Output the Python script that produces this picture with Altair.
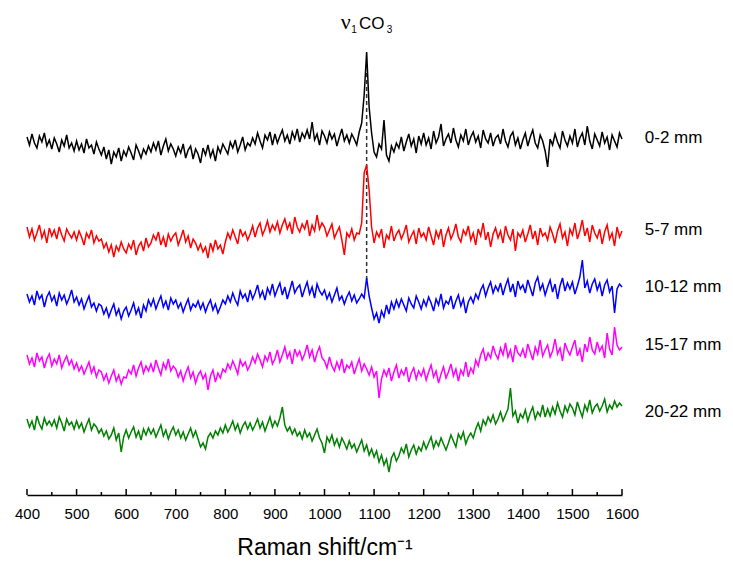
import altair as alt
import pandas as pd

# Raman shift grid: 400 .. 1600 cm-1, step 5
WN_START = 400
WN_STEP = 5

black = [
    358, 350, 361, 352, 347, 359, 353, 362, 349, 355,
    346, 357, 351, 343, 355, 349, 360, 347, 352, 344,
    354, 345, 351, 342, 356, 347, 350, 341, 353, 346,
    340, 348, 336, 345, 331, 343, 338, 347, 334, 344,
    339, 348, 342, 335, 350, 344, 337, 346, 341, 349,
    343, 352, 345, 354, 340, 349, 356, 344, 351, 346,
    339, 348, 342, 351, 337, 345, 349, 336, 346, 341,
    332, 347, 340, 350, 338, 345, 334, 348, 342, 351,
    346, 341, 353, 347, 355, 343, 350, 358, 345, 352,
    349, 357, 351, 362, 354, 347, 360, 355, 363, 350,
    361, 352, 359, 365, 354, 360, 351, 363, 356, 366,
    353, 362, 357, 365, 356, 373, 355, 361, 350, 364,
    359, 352, 363, 356, 361, 349, 358, 366, 354, 360,
    352, 361, 356, 350, 363, 372, 400, 443, 388, 362,
    343, 338, 351, 346, 375, 340, 334, 349, 343, 352,
    347, 358, 344, 353, 361, 349, 356, 342, 359, 351,
    362, 350, 357, 346, 364, 352, 358, 371, 349, 356,
    361, 352, 367, 355, 348, 360, 354, 366, 350, 358,
    363, 353, 359, 347, 365, 356, 352, 362, 349, 357,
    360, 351, 366, 354, 348, 359, 363, 350, 357, 346,
    355, 362, 349, 358, 365, 352, 347, 360, 354, 344,
    328, 356, 350, 361, 353, 347, 364, 355, 349, 359,
    352, 366, 348, 357, 362, 350, 369, 354, 346, 361,
    355, 349, 363, 352, 358, 345, 360, 354, 348, 362,
    356,
]

red = [
    268, 258, 266, 255, 262, 270, 257, 264, 252, 267,
    259, 265, 256, 268, 260, 254, 266, 261, 257, 263,
    255, 264, 258, 250, 262, 257, 265, 252, 259, 254,
    256, 247, 252, 243, 250, 238, 249, 244, 253, 246,
    242, 251, 246, 255, 240, 249, 253, 244, 257, 248,
    252, 260, 255, 263, 250, 258, 248, 261, 254, 259,
    262, 250, 257, 265, 253, 259, 247, 256, 252, 245,
    251, 243, 248, 237, 252, 244, 255, 246, 250, 241,
    253, 262, 256, 265, 258, 251, 266, 259, 263, 255,
    261, 269, 258, 267, 272, 260, 266, 274, 263, 270,
    265, 273, 262, 270, 276, 266, 272, 261, 278, 268,
    263, 271, 266, 275, 259, 270, 264, 280, 266, 272,
    268, 259, 265, 271, 257, 263, 268, 255, 240, 262,
    258, 266, 255, 262, 261, 272, 322, 330, 305, 268,
    252, 263, 258, 266, 247, 260, 256, 269, 254, 261,
    265, 256, 262, 270, 253, 259, 264, 251, 267, 258,
    262, 255, 268, 259, 250, 264, 257, 266, 248, 260,
    267, 256, 262, 271, 258, 253, 265, 260, 269, 255,
    262, 250, 266, 259, 272, 255, 263, 248, 261, 267,
    257, 264, 252, 269, 260, 255, 266, 244, 262, 258,
    265, 253, 261, 270, 256, 264, 250, 267, 259, 262,
    255, 268, 261, 252, 264, 271, 257, 263, 249, 266,
    260, 272, 256, 264, 275, 259, 267, 253, 270, 262,
    257, 266, 251, 263, 270, 256, 262, 249, 268, 258,
    264,
]

blue = [
    201, 193, 199, 190, 204, 196, 200, 188, 198, 203,
    194, 199, 189, 202, 195, 200, 191, 197, 205, 193,
    198, 190, 196, 186, 193, 199, 188, 192, 184, 191,
    189, 181, 187, 178, 185, 191, 180, 186, 176, 184,
    188, 179, 185, 192, 181, 187, 177, 190, 184, 195,
    189, 196, 186, 193, 199, 188, 194, 185, 197, 191,
    195, 187, 192, 183, 190, 196, 185, 191, 188, 194,
    186, 192, 183, 190, 195, 185, 191, 182, 188, 195,
    191, 199, 193, 202, 195, 190, 204, 197, 201, 193,
    205, 196, 202, 210, 198, 204, 195, 207, 201, 211,
    199, 206, 212, 200, 208, 196, 205, 214, 202, 207,
    210, 198, 206, 213, 201, 208, 197, 211, 204, 200,
    205, 196, 202, 193, 200, 207, 195, 199, 191, 198,
    203, 194, 200, 192, 196, 201, 197, 217, 199, 187,
    176, 182, 172, 184, 178, 190, 181, 193, 186, 195,
    188, 196, 190, 184, 197, 191, 187, 199, 193, 186,
    195, 189, 198, 192, 184, 196, 190, 201, 187, 194,
    191, 199, 186, 194, 200, 189, 196, 182, 193, 198,
    192, 201, 196, 205, 210, 199, 207, 213, 202, 209,
    204, 212, 200, 209, 216, 203, 211, 198, 214, 206,
    210, 202, 215, 207, 199, 212, 218, 205, 211, 200,
    208, 215, 203, 211, 196, 209, 217, 204, 212, 206,
    213, 201, 209, 218, 235, 207, 214, 202, 211, 216,
    205, 212, 199, 210, 215, 203, 209, 182, 206, 211,
    208,
]

magenta = [
    140, 131, 137, 128, 142, 134, 138, 127, 136, 141,
    129, 136, 131, 140, 127, 134, 139, 130, 135, 126,
    132, 124, 129, 121, 127, 133, 122, 128, 118, 125,
    123, 115, 121, 112, 119, 125, 114, 120, 111, 118,
    117, 125, 121, 130, 119, 127, 133, 122, 129, 124,
    131, 123, 135, 127, 120, 132, 126, 136, 124, 129,
    126, 118, 124, 114, 122, 128, 117, 123, 112, 120,
    124, 116, 121, 105, 119, 125, 113, 122, 117, 126,
    123, 131, 126, 134, 128, 121, 135, 129, 133, 125,
    130, 138, 132, 141, 135, 128, 139, 134, 143, 131,
    136, 145, 133, 140, 148, 137, 143, 131, 146, 139,
    144, 135, 141, 150, 138, 145, 133, 142, 148, 137,
    134, 127, 138, 129, 124, 133, 126, 136, 122, 130,
    127, 133, 121, 129, 136, 124, 131, 126, 120, 128,
    118, 124, 97, 116, 125, 119, 127, 114, 123, 130,
    117, 125, 120, 128, 113, 122, 127, 116, 124, 119,
    126, 115, 123, 130, 118, 124, 112, 121, 128, 117,
    123, 131, 119, 126, 114, 125, 120, 133, 118, 127,
    122, 135, 129, 140, 146, 134, 142, 137, 149, 141,
    136, 147, 140, 152, 138, 145, 133, 150, 142, 139,
    146, 137, 151, 143, 135, 148, 141, 155, 139, 145,
    150, 138, 144, 156, 141, 147, 134, 152, 145, 140,
    148, 155, 139, 146, 133, 151, 143, 158, 145, 141,
    153, 144, 149, 137, 162, 146, 140, 168, 150, 145,
    148,
]

green = [
    76, 68, 74, 65, 79, 71, 66, 77, 70, 74,
    69, 75, 67, 78, 72, 64, 76, 70, 73, 66,
    74, 67, 72, 63, 70, 76, 65, 71, 68, 62,
    66, 59, 64, 56, 60, 67, 55, 62, 43, 58,
    65, 57, 63, 68, 58, 64, 55, 66, 60, 67,
    61, 66, 58, 64, 70, 59, 65, 56, 63, 68,
    60, 65, 57, 63, 55, 61, 67, 58, 64, 56,
    48, 52, 46, 58, 62, 57, 64, 60, 67, 62,
    70, 63, 68, 74, 65, 71, 62, 69, 73, 66,
    72, 65, 70, 76, 67, 73, 64, 71, 78, 68,
    74, 69, 77, 88, 70, 64, 68, 61, 66, 59,
    63, 56, 65, 58, 62, 54, 60, 66, 57, 52,
    42, 58, 53, 60, 50, 56, 48, 57, 52, 46,
    54, 47, 51, 43, 49, 55, 44, 50, 40, 46,
    38, 44, 33, 40, 30, 36, 23, 37, 42, 34,
    39, 47, 42, 51, 38, 45, 50, 41, 48, 44,
    53, 46, 52, 58, 47, 54, 49, 57, 51, 45,
    52, 60, 54, 48, 61, 56, 63, 51, 58, 62,
    57, 66, 72, 64, 75, 70, 78, 73, 80, 71,
    76, 83, 74, 80, 86, 107, 79, 84, 72, 81,
    77, 85, 74, 82, 88, 76, 83, 79, 90, 78,
    86, 79, 88, 81, 92, 84, 78, 89, 83, 91,
    87, 80, 93, 85, 78, 90, 84, 95, 82, 88,
    91, 84, 89, 96, 83, 90, 86, 94, 88, 92,
    89,
]

series_names = ["0-2 mm", "5-7 mm", "10-12 mm", "15-17 mm", "20-22 mm"]
series_colors = ["#000000", "#ff0000", "#0000ff", "#ff00ff", "#008000"]
label_y = [357, 265, 208, 150, 83]
label_x = 1646

major_ticks = list(range(400, 1601, 100))
minor_ticks = list(range(450, 1551, 100))

peak_wn = 1085
dash_top = 425
dash_bottom = 215
annot_y = 466

rows = []
for name, vals in zip(series_names, [black, red, blue, magenta, green]):
    for i, v in enumerate(vals):
        rows.append({"series": name, "wn": WN_START + WN_STEP * i, "val": v})
df = pd.DataFrame(rows)

ticks_df = pd.DataFrame(
    [{"wn": t, "val": 0, "top": 6} for t in major_ticks]
    + [{"wn": t, "val": 0, "top": 3} for t in minor_ticks]
)
labels_df = pd.DataFrame({"series": series_names, "wn": [label_x] * 5, "val": label_y})
dash_df = pd.DataFrame({"wn": [peak_wn], "val": [dash_bottom], "top": [dash_top]})
annot_df = pd.DataFrame({"wn": [peak_wn], "val": [annot_y]})

FONT = "Liberation Sans"
xs = alt.Scale(domain=[400, 1600], nice=False, zero=False)
ys = alt.Scale(domain=[0, 487], nice=False, zero=False)

AX = alt.Axis(
    values=major_ticks,
    format="d",
    ticks=False,
    grid=False,
    labelPadding=11,
    labelFontSize=15,
    labelFont=FONT,
    labelColor="black",
    labelOverlap=False,
    labelFlush=False,
    labelBound=False,
    domainColor="black",
    domainWidth=1.5,
    title="Raman shift/cm⁻¹",
    titleFont=FONT,
    titleFontSize=23,
    titleFontWeight="normal",
    titleColor="black",
    titleY=59,
    titleBaseline="alphabetic",
)

X = alt.X("wn:Q", scale=xs, axis=AX)
Y = alt.Y("val:Q", scale=ys, axis=None)

dash = alt.Chart(dash_df).mark_rule(color="#333333", strokeWidth=1.5, strokeDash=[4, 3]).encode(
    x=X, y=Y, y2="top:Q",
)

lines = alt.Chart(df).mark_line(strokeWidth=1.5).encode(
    x=X,
    y=Y,
    color=alt.Color("series:N", scale=alt.Scale(domain=series_names, range=series_colors), legend=None),
    detail="series:N",
)

ticks = alt.Chart(ticks_df).mark_rule(color="black", strokeWidth=1.5).encode(
    x=X, y=Y, y2="top:Q",
)

labels = alt.Chart(labels_df).mark_text(
    align="left", baseline="middle", font=FONT, fontSize=17, color="black"
).encode(x=X, y=Y, text="series:N")


def annot(txt, dx, dy, size, font=FONT, style="normal"):
    return alt.Chart(annot_df).mark_text(
        text=txt, align="center", baseline="alphabetic", dx=dx, dy=dy,
        fontSize=size, font=font, fontStyle=style, color="black",
    ).encode(x=X, y=Y)


nu = annot("ν", -21, 0, 22, font="Liberation Serif")
sub1 = annot("1", -12.5, 4, 10)
co = annot("CO", 5, 0, 17)
sub3 = annot("3", 23, 4, 10)

chart = alt.layer(dash, lines, ticks, labels, nu, sub1, co, sub3).properties(
    width=595,
    height=487,
    padding={"left": 19, "top": 0, "right": 103, "bottom": 66},
    autosize=alt.AutoSizeParams(type="none"),
).configure_view(stroke=None)

chart.save("out.html", embed_options={"renderer": "svg", "actions": False})
